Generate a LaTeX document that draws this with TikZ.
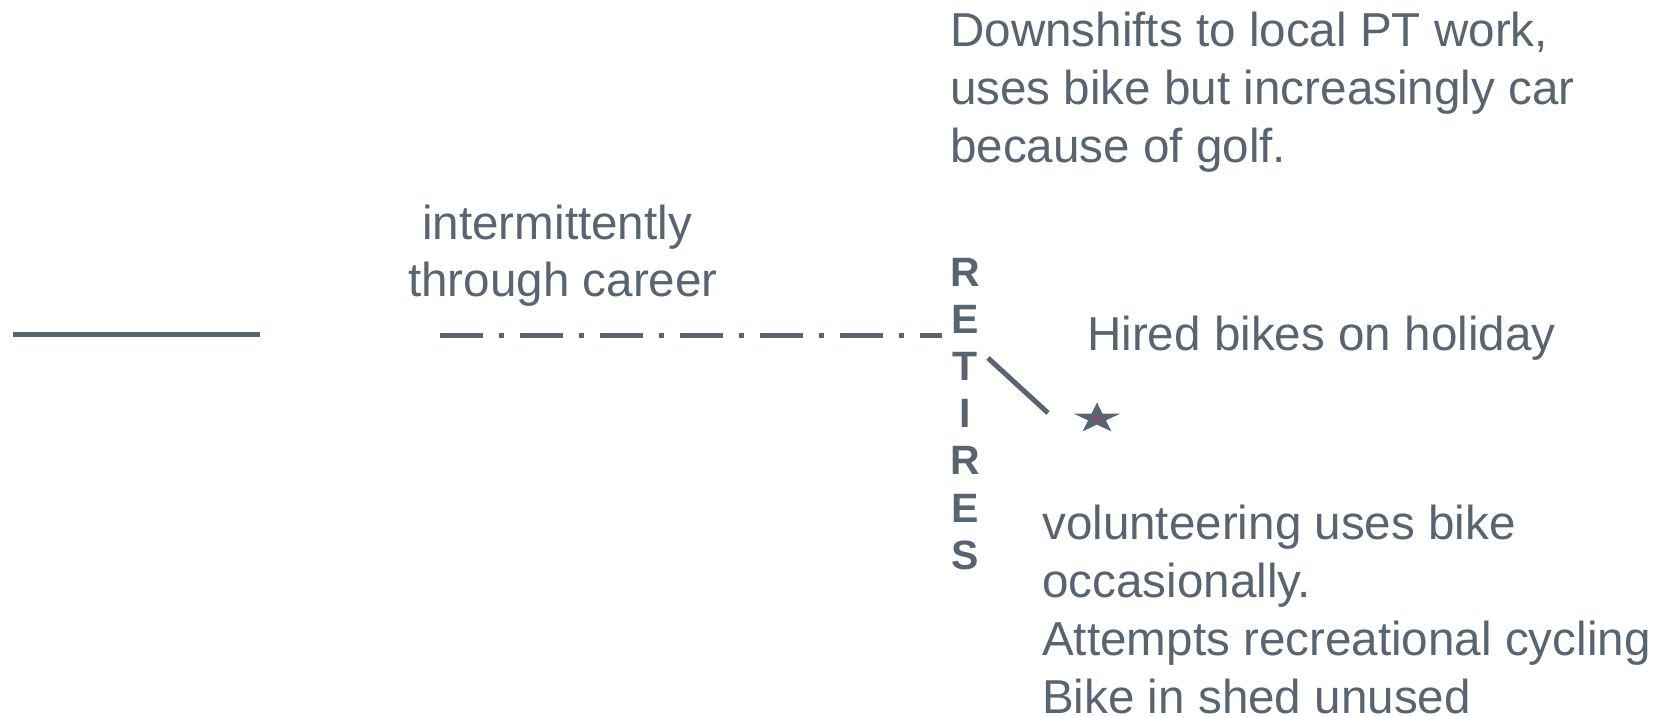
\documentclass[tikz,border=0pt]{standalone}
\usepackage{fontspec}
\setmainfont{Liberation Sans}
\definecolor{ink}{RGB}{90,100,112}
\definecolor{pinkmark}{RGB}{230,30,130}
\begin{document}
\begin{tikzpicture}[x=1pt,y=-1pt,
  txt/.style={font=\fontsize{47.6}{57}\selectfont, text=ink, inner sep=0pt, anchor=base west},
  retl/.style={font=\fontsize{41}{47}\selectfont\bfseries, text=ink, inner sep=0pt, anchor=base},
  rule/.style={draw=ink, line width=5pt, line cap=butt},
]
\useasboundingbox (0,0) rectangle (1668,717);

% text blocks
\node[txt] (d1) at (950,47) {Downshifts to local PT work,};
\node[txt] (d2) at (950,104) {uses bike but increasingly car};
\node[txt] (d3) at (950,162) {because of golf.};

\node[txt] (i1) at (422,239) {intermittently};
\node[txt] (i2) at (408,296) {through career};

\node[txt] (h1) at (1087,350) {Hired bikes on holiday};

\node[txt] (v1) at (1042,539) {volunteering uses bike};
\node[txt] (v2) at (1042,597) {occasionally.};
\node[txt] (v3) at (1042,655) {Attempts recreational cycling};
\node[txt] (v4) at (1042,713) {Bike in shed unused};

% RETIRES
\foreach \L [count=\k from 0] in {R,E,T,I,R,E,S}
  \node[retl] (ret\k) at (965,{286+47.2*\k}) {\L};

% lines
\coordinate (s0) at (13,334);
\coordinate (s1) at (260,334);
\draw[rule] (s0) -- (s1);

\coordinate (c0) at (440,335);
\coordinate (c1) at (942,335);
\draw[rule, dash pattern=on 43pt off 16pt on 5pt off 16pt] (c0) -- (c1);

\coordinate (g0) at (988,358);
\coordinate (g1) at (1048,413);
\draw[rule] (g0) -- (g1);

% star
\fill[ink] (1097,402.5) -- (1102.5,413.6) -- (1120.3,413.6) -- (1105.9,420.4)
  -- (1111.4,431.4) -- (1097,424.6) -- (1082.6,431.4) -- (1088.1,420.4)
  -- (1073.7,413.6) -- (1091.5,413.6) -- cycle;
\fill[pinkmark] (1095,421) -- (1097,416) -- (1099,421) -- cycle;
\end{tikzpicture}
\end{document}
